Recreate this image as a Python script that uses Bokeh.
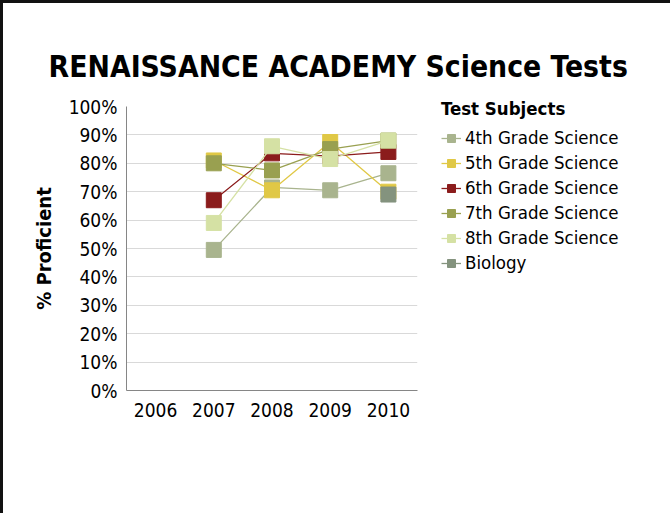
from bokeh.plotting import figure
from bokeh.models import (ColumnDataSource, FactorRange, Range1d, FixedTicker,
                          PrintfTickFormatter, Legend, LegendItem, Title)
from bokeh.embed import file_html
from bokeh.resources import INLINE

years = ["2006", "2007", "2008", "2009", "2010"]
subjects = ["4th Grade Science", "5th Grade Science", "6th Grade Science",
            "7th Grade Science", "8th Grade Science", "Biology"]
nan = float("nan")
grade4 = [nan, 49.5, 71.5, 70.5, 76.5]
grade5 = [nan, 81.0, 70.5, 87.5, 70.0]
grade6 = [nan, 67.0, 83.5, 82.5, 84.0]
grade7 = [nan, 80.0, 77.5, 85.0, 88.0]
grade8 = [nan, 59.0, 86.0, 81.5, 88.0]
biology = [nan, nan, nan, nan, 69.0]
series = [grade4, grade5, grade6, grade7, grade8, biology]
colors = ["#A9B48E", "#E0C846", "#8B1C1C", "#99A050", "#D5E1A4", "#84937E"]
y_ticks = [0, 10, 20, 30, 40, 50, 60, 70, 80, 90, 100]

FONT = "DejaVu Sans Condensed"

p = figure(frame_width=291, frame_height=284, x_range=FactorRange(*years),
           y_range=Range1d(0, 100), output_backend="svg", toolbar_location=None,
           min_border_left=123, min_border_right=245, min_border_top=103,
           min_border_bottom=123)
p.styles = {"border-top": "3px solid #111", "border-left": "3px solid #111"}
p.outline_line_color = None
p.background_fill_color = "white"

p.xgrid.grid_line_color = None
p.ygrid.grid_line_color = "#D9D9D9"
p.ygrid.grid_line_width = 1

p.yaxis.ticker = FixedTicker(ticks=y_ticks)
p.yaxis.formatter = PrintfTickFormatter(format="%d%%")
for ax in (p.xaxis[0], p.yaxis[0]):
    ax.axis_line_color = "#868686"
    ax.major_tick_line_color = None
    ax.minor_tick_line_color = None
    ax.major_tick_out = 0
    ax.major_tick_in = 0
    ax.minor_tick_out = 0
    ax.minor_tick_in = 0
    ax.major_label_text_font = FONT
    ax.major_label_text_font_size = "19px"
    ax.major_label_text_color = "#000000"
p.yaxis.major_label_standoff = 9
p.xaxis.major_label_standoff = 12
p.yaxis.axis_label = "% Proficient"
p.yaxis.axis_label_text_font = FONT
p.yaxis.axis_label_text_font_style = "bold"
p.yaxis.axis_label_text_font_size = "20px"
p.yaxis.axis_label_text_color = "#000000"
p.yaxis.axis_label_standoff = 10

items = []
for name, vals, col in zip(subjects, series, colors):
    src = ColumnDataSource(dict(x=years, y=vals))
    ln = p.line("x", "y", source=src, line_color=col, line_width=1.3)
    sc = p.scatter("x", "y", source=src, marker="square", size=15,
                   fill_color=col, line_color=col)
    items.append(LegendItem(label=name, renderers=[ln, sc]))

legend = Legend(items=items, location=(24, 117), title="Test Subjects",
                title_text_font=FONT, title_text_font_style="bold",
                title_text_font_size="18.5px", title_text_color="#000000",
                label_text_font=FONT, label_text_color="#000000",
                label_text_font_size="18.5px", border_line_color=None,
                background_fill_alpha=0, padding=0, margin=0,
                glyph_width=20, glyph_height=20, label_height=20,
                spacing=4, title_standoff=8, label_standoff=4)
p.add_layout(legend, "right")

p.title = Title(text="RENAISSANCE ACADEMY Science Tests", text_font=FONT,
                text_font_style="bold", text_font_size="29.8px",
                align="left", offset=-78, standoff=46, text_color="#000000")

open("out.html", "w").write(file_html(p, INLINE))
